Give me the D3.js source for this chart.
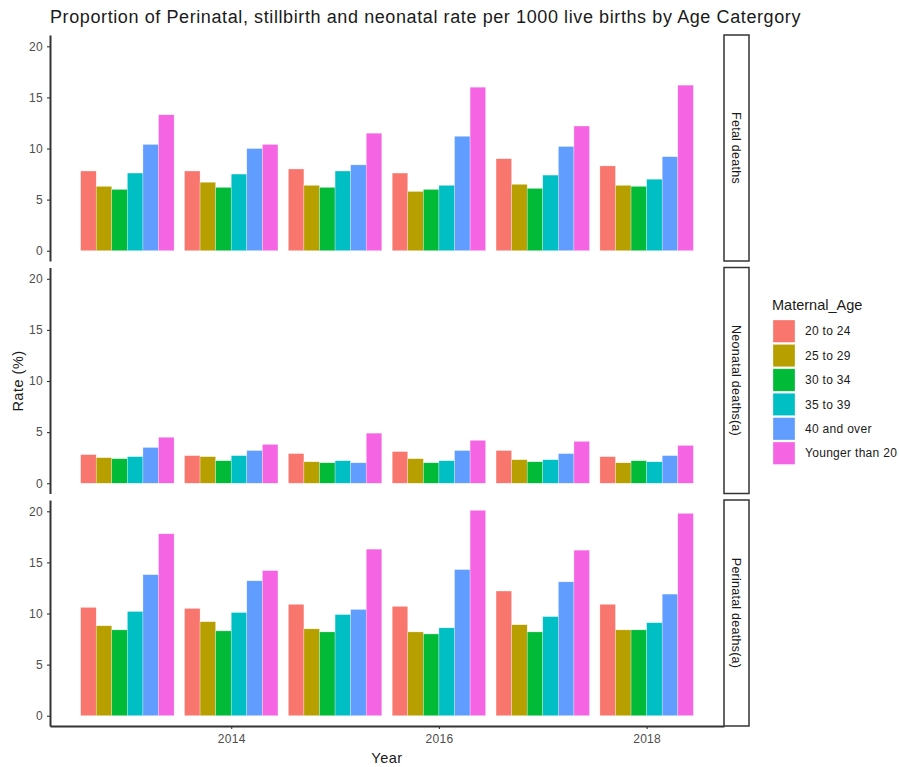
<!DOCTYPE html>
<html>
<head>
<meta charset="utf-8">
<script src="https://cdn.jsdelivr.net/npm/d3@7"></script>
<style>
	body { margin: 0; background: #fff; }
	svg text { font-family: "Liberation Sans", Arial, sans-serif; }
</style>
</head>
<body>
<div id="chart"></div>
<script>
var years = [2013, 2014, 2015, 2016, 2017, 2018];
var ages = ['20 to 24', '25 to 29', '30 to 34', '35 to 39', '40 and over', 'Younger than 20'];
var facets = ['Fetal deaths', 'Neonatal deaths(a)', 'Perinatal deaths(a)'];
var colors = ['#F8766D', '#B79F00', '#00BA38', '#00BFC4', '#619CFF', '#F564E3'];
var xTicks = [2014, 2016, 2018];
var yTicks = [0, 5, 10, 15, 20];

// values per year, in age order
var fetal = [
	[7.8, 6.3, 6.0, 7.6, 10.4, 13.3],
	[7.8, 6.7, 6.2, 7.5, 10.0, 10.4],
	[8.0, 6.4, 6.2, 7.8, 8.4, 11.5],
	[7.6, 5.8, 6.0, 6.4, 11.2, 16.0],
	[9.0, 6.5, 6.1, 7.4, 10.2, 12.2],
	[8.3, 6.4, 6.3, 7.0, 9.2, 16.2]
];
var neonatal = [
	[2.8, 2.5, 2.4, 2.6, 3.5, 4.5],
	[2.7, 2.6, 2.2, 2.7, 3.2, 3.8],
	[2.9, 2.1, 2.0, 2.2, 2.0, 4.9],
	[3.1, 2.4, 2.0, 2.2, 3.2, 4.2],
	[3.2, 2.3, 2.1, 2.3, 2.9, 4.1],
	[2.6, 2.0, 2.2, 2.1, 2.7, 3.7]
];
var perinatal = [
	[10.6, 8.8, 8.4, 10.2, 13.8, 17.8],
	[10.5, 9.2, 8.3, 10.1, 13.2, 14.2],
	[10.9, 8.5, 8.2, 9.9, 10.4, 16.3],
	[10.7, 8.2, 8.0, 8.6, 14.3, 20.1],
	[12.2, 8.9, 8.2, 9.7, 13.1, 16.2],
	[10.9, 8.4, 8.4, 9.1, 11.9, 19.8]
];
var panelData = [fetal, neonatal, perinatal];

var W = 899, H = 767;
var cfg = {
	left: 50,
	right: 724,
	stripW: 25,
	panelTops: [35, 267.5, 500],
	panelH: 226,
	dodge: 0.9
};

var svg = d3.select('#chart').append('svg')
	.attr('width', W)
	.attr('height', H);

// x: continuous year scale with ggplot-style expansion
var xMin = years[0] - cfg.dodge / 2, xMax = years[years.length - 1] + cfg.dodge / 2;
var xPad = (xMax - xMin) * 0.05;
var x = d3.scaleLinear()
	.domain([xMin - xPad, xMax + xPad])
	.range([cfg.left, cfg.right]);
var yearW = x(1) - x(0);
var xs = d3.scaleBand()
	.domain(ages)
	.range([0, yearW * cfg.dodge]);

var yMax = d3.max(panelData, function(p) { return d3.max(p, function(r) { return d3.max(r); }); });
var yPad = yMax * 0.05;

function styleAxis(a) {
	a.select('.domain').attr('stroke', '#333').attr('stroke-width', 2);
	a.selectAll('.tick line').attr('stroke', '#333').attr('stroke-width', 1.1);
	a.selectAll('.tick text')
		.attr('fill', '#4D4D4D')
		.style('font-size', '12px')
		.style('letter-spacing', '0.3px');
}

panelData.forEach(function(p, pi) {
	var top = cfg.panelTops[pi];
	var y = d3.scaleLinear()
		.domain([-yPad, yMax + yPad])
		.range([top + cfg.panelH, top]);

	var g = svg.append('g').classed('panel', true);

	// bars
	p.forEach(function(row, yi) {
		var x0 = x(years[yi]) - yearW * cfg.dodge / 2;
		g.selectAll(null)
			.data(row)
			.enter()
			.append('rect')
			.attr('x', function(d, i) { return x0 + xs(ages[i]); })
			.attr('width', xs.bandwidth())
			.attr('y', function(d) { return y(d); })
			.attr('height', function(d) { return y(0) - y(d); })
			.attr('fill', function(d, i) { return colors[i]; })
			.attr('stroke', '#fff')
			.attr('stroke-opacity', 0.6)
			.attr('stroke-width', 0.5);
	});

	// y axis
	var yAxis = d3.axisLeft(y).tickValues(yTicks).tickSize(3).tickSizeOuter(0).tickPadding(4);
	g.append('g')
		.attr('transform', 'translate(' + cfg.left + ',0)')
		.call(yAxis)
		.call(styleAxis);

	// x axis only on last panel
	if (pi === panelData.length - 1) {
		var xAxis = d3.axisBottom(x).tickValues(xTicks).tickFormat(d3.format('d'))
			.tickSize(3).tickSizeOuter(0).tickPadding(5);
		g.append('g')
			.attr('transform', 'translate(0,' + (top + cfg.panelH) + ')')
			.call(xAxis)
			.call(styleAxis);
	}

	// strip
	g.append('rect')
		.attr('x', cfg.right)
		.attr('y', top)
		.attr('width', cfg.stripW)
		.attr('height', cfg.panelH)
		.attr('fill', '#fff')
		.attr('stroke', '#333')
		.attr('stroke-width', 1.5);
	var cx = cfg.right + cfg.stripW / 2, cy = top + cfg.panelH / 2;
	g.append('text')
		.attr('transform', 'translate(' + cx + ',' + cy + ') rotate(90)')
		.attr('text-anchor', 'middle')
		.attr('dy', '0.35em')
		.style('font-size', '12.5px')
		.style('letter-spacing', '0.25px')
		.attr('fill', '#1A1A1A')
		.text(facets[pi]);
});

// title
svg.append('text')
	.attr('x', 50)
	.attr('y', 23)
	.style('font-size', '18px')
	.style('letter-spacing', '0.6px')
	.attr('fill', '#1A1A1A')
	.text('Proportion of Perinatal, stillbirth and neonatal rate per 1000 live births by Age Catergory');

// axis titles
svg.append('text')
	.attr('x', (cfg.left + cfg.right) / 2)
	.attr('y', 763)
	.attr('text-anchor', 'middle')
	.style('font-size', '14.5px')
	.style('letter-spacing', '0.5px')
	.attr('fill', '#1A1A1A')
	.text('Year');
svg.append('text')
	.attr('transform', 'translate(23,381) rotate(-90)')
	.attr('text-anchor', 'middle')
	.style('font-size', '14.5px')
	.style('letter-spacing', '0.5px')
	.attr('fill', '#1A1A1A')
	.text('Rate (%)');

// legend
var leg = svg.append('g').attr('transform', 'translate(772,0)');
leg.append('text')
	.attr('x', 0)
	.attr('y', 310)
	.style('font-size', '14.5px')
	.attr('fill', '#1A1A1A')
	.text('Maternal_Age');
var keyH = 24.4;
var items = leg.selectAll('.key')
	.data(ages)
	.enter()
	.append('g')
	.attr('transform', function(d, i) { return 'translate(0,' + (319 + i * keyH) + ')'; });
items.append('rect')
	.attr('x', 1)
	.attr('y', 1)
	.attr('width', 22)
	.attr('height', keyH - 2)
	.attr('fill', function(d, i) { return colors[i]; })
	.attr('stroke', '#fff')
	.attr('stroke-opacity', 0.6)
	.attr('stroke-width', 0.5);
items.append('text')
	.attr('x', 33)
	.attr('y', keyH / 2)
	.attr('dy', '0.35em')
	.style('font-size', '12px')
	.style('letter-spacing', '0.3px')
	.attr('fill', '#1A1A1A')
	.text(function(d) { return d; });
</script>
</body>
</html>
